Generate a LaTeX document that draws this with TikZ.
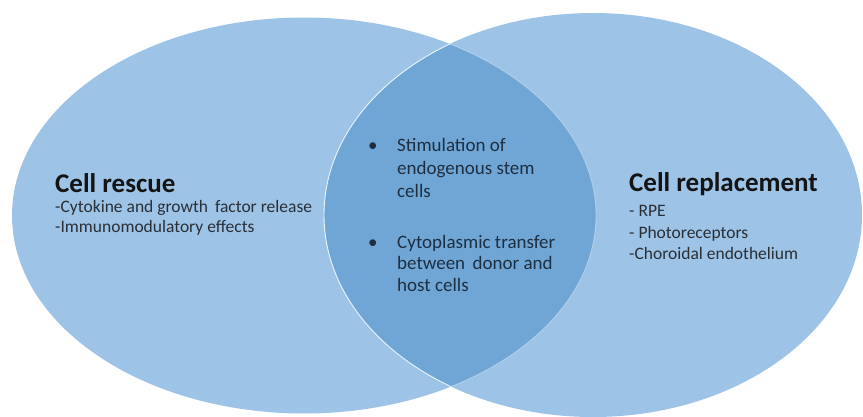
\documentclass[tikz,border=0pt]{standalone}
\usepackage{fontspec}
\setmainfont{Carlito}
\definecolor{lightfill}{HTML}{9DC3E6}
\definecolor{darkfill}{HTML}{6FA6D6}
\definecolor{titlecol}{HTML}{141414}
\definecolor{bodycol}{HTML}{2A2F36}
\definecolor{midcol}{HTML}{1F2F40}
\begin{document}
\begin{tikzpicture}[x=1pt,y=-1pt,
  titletext/.style={anchor=base west, inner sep=0pt, font=\fontsize{27}{32}\selectfont\bfseries, text=titlecol},
  bodytext/.style={anchor=base west, inner sep=0pt, font=\fontsize{17.5}{21}\selectfont, text=bodycol},
  midtext/.style={anchor=base west, inner sep=0pt, font=\fontsize{19}{22}\selectfont, text=midcol},
  edgeline/.style={draw=white, line width=0.9pt, opacity=0.85}]
\useasboundingbox (0,0) rectangle (863,417);
% ellipses
\fill[lightfill] (304,215.5) ellipse [x radius=292, y radius=198];
\fill[lightfill] (593,215) ellipse [x radius=269, y radius=202];
\begin{scope}
  \clip (304,215.5) ellipse [x radius=292, y radius=198];
  \fill[darkfill] (593,215) ellipse [x radius=269, y radius=202];
  \draw[edgeline] (593,215) ellipse [x radius=269, y radius=202];
\end{scope}
\begin{scope}
  \clip (593,215) ellipse [x radius=269, y radius=202];
  \draw[edgeline, opacity=0.35] (304,215.5) ellipse [x radius=292, y radius=198];
\end{scope}
% left block
\node[titletext] (lt) at (55,193) {Cell rescue};
\node[bodytext] (l1) at (55,213) {-Cytokine and growth\, factor release};
\node[bodytext] (l2) at (55,233) {-Immunomodulatory effects};
% middle block
\node[midtext] (b1) at (368,152) {•};
\node[midtext] (m1) at (397,152) {Stimulation of};
\node[midtext] (m2) at (397,174.5) {endogenous stem};
\node[midtext] (m3) at (397,197) {cells};
\node[midtext] (b2) at (368,248) {•};
\node[midtext] (m4) at (397,248) {Cytoplasmic transfer};
\node[midtext] (m5) at (397,269.5) {between\, donor and};
\node[midtext] (m6) at (397,291) {host cells};
% right block
\node[titletext] (rt) at (629,192) {Cell replacement};
\node[bodytext] (r1) at (629,217) {- RPE};
\node[bodytext] (r2) at (629,238) {- Photoreceptors};
\node[bodytext] (r3) at (629,259) {-Choroidal endothelium};
\end{tikzpicture}
\end{document}
